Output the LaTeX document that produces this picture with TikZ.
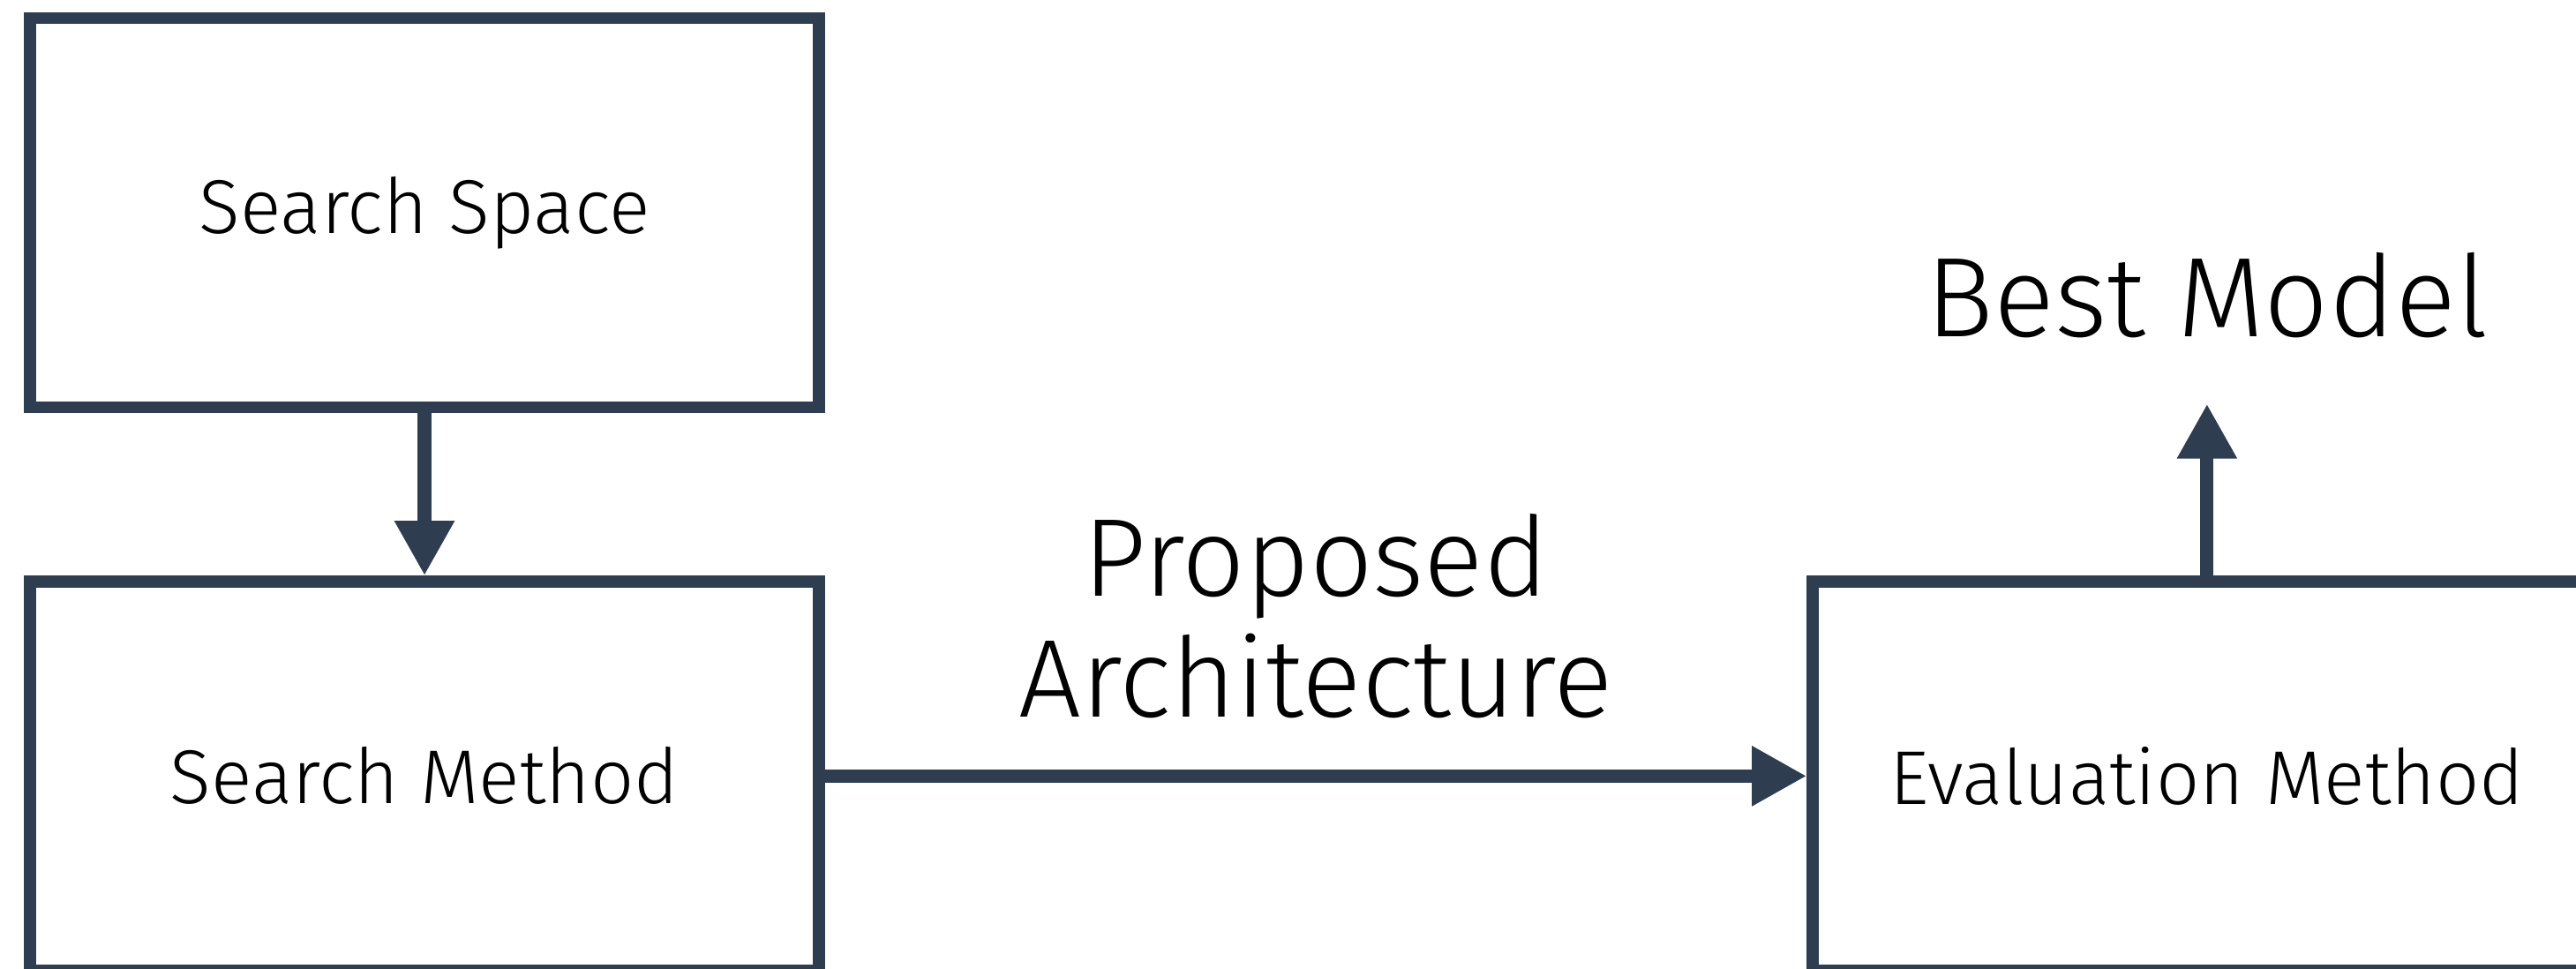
\documentclass[tikz,border=0pt]{standalone}
\usepackage{fontspec}
\setmainfont{Fira Sans Light}
\usetikzlibrary{arrows.meta,positioning}
\definecolor{slate}{RGB}{46,62,80}

\begin{document}
\begin{tikzpicture}[
    block/.style={draw=slate, line width=3.8pt, minimum width=8.94cm, minimum height=4.41cm, inner sep=0pt, font=\fontsize{24.6}{30}\selectfont},
    arr/.style={slate, line width=4.3pt, -{Triangle[length=0.62cm, width=0.64cm]}}
]
    \useasboundingbox (0,0) rectangle (29.19,10.97);

    % Blocks
    \node[block] (space) at (4.81, 8.56) {Search Space};
    \node[block, below=1.84cm of space] (method) {Search Method};
    \node[block, right=11.125cm of method] (eval) {Evaluation Method};
    \node[font=\fontsize{36.5}{45}\selectfont] (best) at (25.01, 7.62) {Best Model};

    % Arrows
    \draw[arr] (space) -- (method);
    \draw[arr] (method) -- node[above=0.58cm, inner sep=0pt, align=center, text=black, font=\fontsize{35.7}{38.9}\selectfont] {Proposed\\Architecture} (eval);
    \coordinate[above=1.945cm of eval.north] (besttip);
    \draw[arr] (eval) -- (besttip);
\end{tikzpicture}
\end{document}
